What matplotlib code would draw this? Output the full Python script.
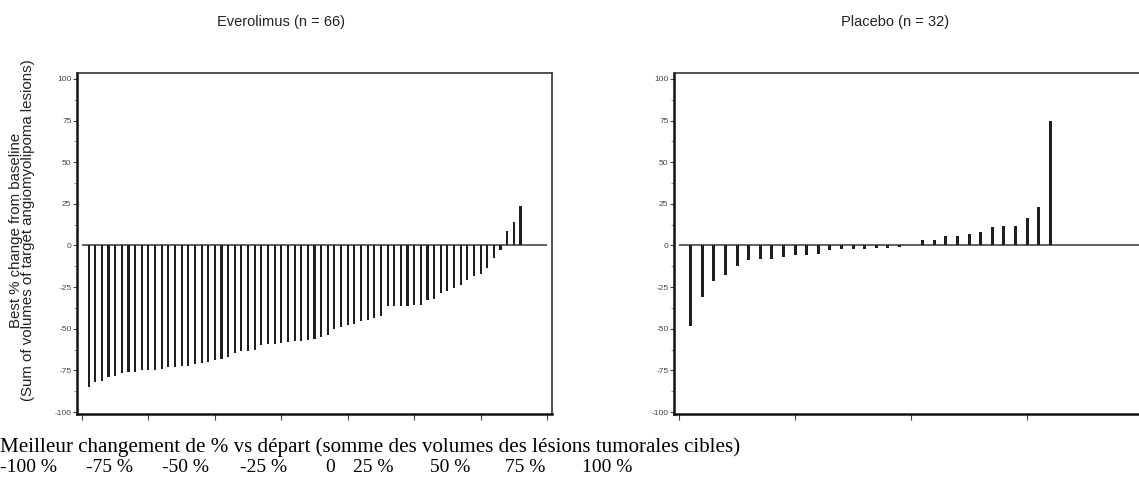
import matplotlib
matplotlib.use("Agg")
import matplotlib.pyplot as plt
from matplotlib.ticker import MultipleLocator

# best % change from baseline, one value per patient, sorted ascending
everolimus = [-85, -82, -81.5, -79, -78.5, -76.5, -76, -76, -75, -74.5,
              -74.5, -74, -73, -72.8, -72.4, -72.4, -71, -70.6, -70, -68.6,
              -68, -67, -64.4, -63.6, -63.4, -62.6, -60, -59.4, -59, -58.6,
              -58, -57.6, -57.4, -56.6, -56.4, -55, -54, -50.4, -49, -48,
              -47.4, -45.6, -45, -43.4, -42.5, -36.6, -36.4, -36.4, -36.4, -36,
              -35.8, -32.8, -32.4, -28.4, -27.4, -25.8, -24, -21, -18.4, -17.4,
              -13.4, -7.4, -2.8, 8.6, 14, 23.6]
placebo = [-48.5, -31, -21.5, -17.5, -12.5, -8.5, -8, -8, -7, -6,
           -6, -5, -2.6, -2.4, -2.2, -2, -1.8, -1.6, -1.2, 0.5,
           3.5, 3.5, 6, 6, 7, 8, 11, 12, 12, 16.5,
           23, 75]

titles = ["Everolimus (n = 66)", "Placebo (n = 32)"]
ylabel = "Best % change from baseline\n(Sum of volumes of target angiomyolipoma lesions)"
yticks = [-100, -75, -50, -25, 0, 25, 50, 75, 100]

fr_caption = "Meilleur changement de % vs départ (somme des volumes des lésions tumorales cibles)"
fr_scale = ["-100 %", "-75 %", "-50 %", "-25 %", "0", "25 %", "50 %", "75 %", "100 %"]
fr_scale_x = [0, 86, 162, 240, 325, 353, 430, 505, 582]

W, H = 1139, 484
fig = plt.figure(figsize=(W / 100, H / 100), dpi=100)
plt.rcParams["font.family"] = ["Liberation Sans", "DejaVu Sans"]


def panel(rect, values, xlim, xticks, barw, zero_end):
    ax = fig.add_axes(rect)
    x = range(1, len(values) + 1)
    ax.bar(x, values, width=barw, color="#1e1e1e", edgecolor="none", zorder=3)
    ax.hlines(0, 0, zero_end, color="#555555", lw=1.3, zorder=2)
    ax.set_xlim(*xlim)
    ax.set_ylim(-101.2, 103.6)
    ax.set_xticks(xticks)
    ax.set_xticklabels([])
    ax.set_yticks(yticks)
    ax.set_yticklabels([str(t) for t in yticks], fontsize=6, color="#333333")
    ax.yaxis.set_minor_locator(MultipleLocator(12.5))
    ax.tick_params(axis="y", which="major", length=3, width=0.8, pad=1, colors="#444444")
    ax.tick_params(axis="y", which="minor", length=2, width=0.6, colors="#777777")
    ax.tick_params(axis="x", length=4, width=0.8, colors="#444444")
    for side in ("left", "bottom"):
        ax.spines[side].set_linewidth(1.8)
        ax.spines[side].set_color("#111111")
    for side in ("top", "right"):
        ax.spines[side].set_linewidth(1.2)
        ax.spines[side].set_color("#333333")
    return ax


def fx(px):
    return px / W


def fy(py):
    return 1 - py / H


ax1 = panel([fx(77), fy(414), fx(475), (414 - 73) / H], everolimus,
            (-0.75, 70.75), range(0, 71, 10), 0.32, 70)
ax2 = panel([fx(674), fy(414), fx(475), (414 - 73) / H], placebo,
            (-0.43, 40.5), range(0, 41, 10), 0.26, 41)

fig.text(fx(281), fy(22), titles[0], ha="center", va="center", fontsize=10.5, color="#222222")
fig.text(fx(895), fy(22), titles[1], ha="center", va="center", fontsize=10.5, color="#222222")
fig.text(fx(22), fy(230), ylabel, rotation=90, ha="center", va="center",
         fontsize=10.8, linespacing=0.82, color="#222222")

fig.text(fx(0), fy(447), fr_caption, ha="left", va="center",
         fontsize=15.1, family="Liberation Serif", color="black")
for label, px in zip(fr_scale, fr_scale_x):
    fig.text(fx(px), fy(468), label, ha="left", va="center",
             fontsize=14, family="Liberation Serif", color="black")

fig.savefig("out.png", dpi=100)
